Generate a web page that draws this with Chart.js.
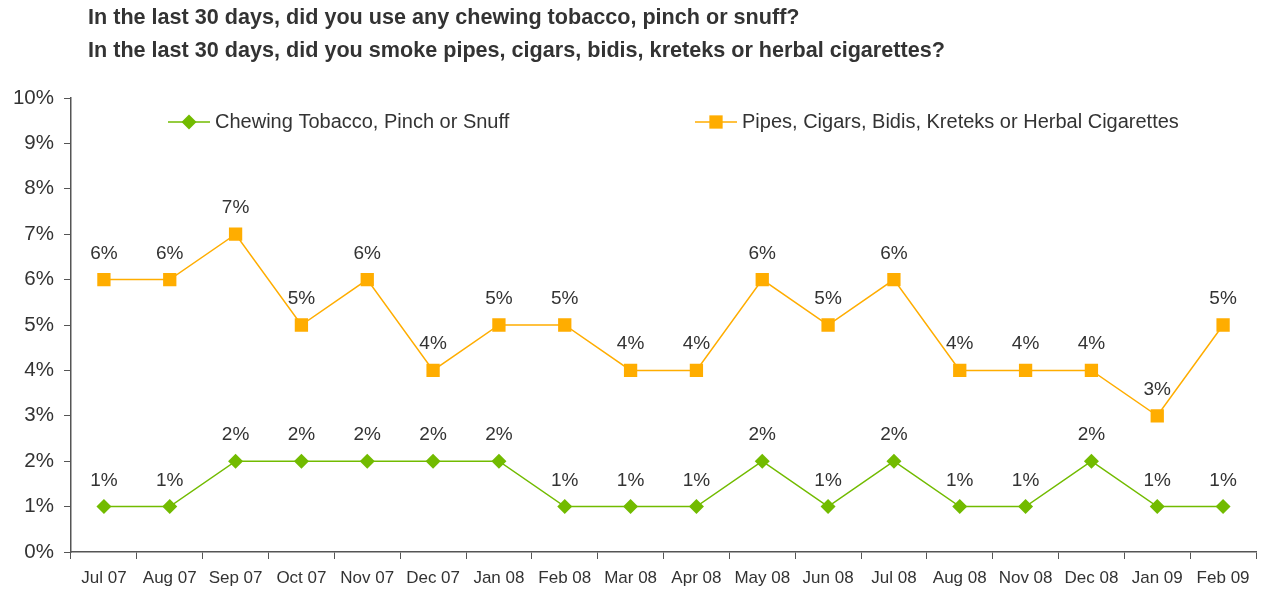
<!DOCTYPE html>
<html>
<head>
<meta charset="utf-8">
<script src="https://cdn.jsdelivr.net/npm/chart.js@4"></script>
<style>
  html, body { margin: 0; padding: 0; background: #fff; }
  #wrap { position: relative; width: 1266px; height: 590px; }
</style>
</head>
<body>
<div id="wrap"><canvas id="chart" width="1266" height="590"></canvas></div>
<script>
// Monthly survey: share of respondents using other tobacco products in the last 30 days.
const TITLE_LINES = [
  "In the last 30 days, did you use any chewing tobacco, pinch or snuff?",
  "In the last 30 days, did you smoke pipes, cigars, bidis, kreteks or herbal cigarettes?",
];

const MONTHS = [
  "Jul 07", "Aug 07", "Sep 07", "Oct 07", "Nov 07", "Dec 07", "Jan 08", "Feb 08", "Mar 08",
  "Apr 08", "May 08", "Jun 08", "Jul 08", "Aug 08", "Nov 08", "Dec 08", "Jan 09", "Feb 09",
];

const CHEWING = [1, 1, 2, 2, 2, 2, 2, 1, 1, 1, 2, 1, 2, 1, 1, 2, 1, 1];
const PIPES = [6, 6, 7, 5, 6, 4, 5, 5, 4, 4, 6, 5, 6, 4, 4, 4, 3, 5];

const GREEN = "#72bb00";
const ORANGE = "#ffad00";
const TEXT = "#333333";
const AXIS = "#555555";
const FONT = "'Liberation Sans', Arial, sans-serif";

// Bold two-line heading at the top left of the canvas.
const titlePlugin = {
  id: "heading",
  afterDraw(chart) {
    const ctx = chart.ctx;
    ctx.save();
    ctx.fillStyle = TEXT;
    ctx.font = "bold 21.6px " + FONT;
    ctx.textBaseline = "alphabetic";
    ctx.textAlign = "left";
    ctx.fillText(TITLE_LINES[0], 88, 24);
    ctx.fillText(TITLE_LINES[1], 88, 57);
    ctx.restore();
  },
};

// Legend inside the plot: a short line with the series marker, then the label.
const legendPlugin = {
  id: "lineLegend",
  afterDraw(chart) {
    const ctx = chart.ctx;
    const y = 122;
    const items = [
      { x: 168, ds: 0 },
      { x: 695, ds: 1 },
    ];
    ctx.save();
    items.forEach((it) => {
      const ds = chart.data.datasets[it.ds];
      ctx.strokeStyle = ds.borderColor;
      ctx.lineWidth = 1.5;
      ctx.beginPath();
      ctx.moveTo(it.x, y);
      ctx.lineTo(it.x + 42, y);
      ctx.stroke();
      ctx.fillStyle = ds.backgroundColor;
      Chart.helpers.drawPoint(ctx, {
        pointStyle: ds.pointStyle,
        radius: ds.pointRadius,
        borderWidth: 0,
      }, it.x + 21, y);
      ctx.fillStyle = TEXT;
      ctx.font = "20px " + FONT;
      ctx.textBaseline = "alphabetic";
      ctx.textAlign = "left";
      ctx.fillText(ds.label, it.x + 47, y + 5.5);
    });
    ctx.restore();
  },
};

// Percentage above every point.
const valueLabels = {
  id: "valueLabels",
  afterDatasetsDraw(chart) {
    const ctx = chart.ctx;
    ctx.save();
    ctx.fillStyle = TEXT;
    ctx.font = "19px " + FONT;
    ctx.textAlign = "center";
    ctx.textBaseline = "alphabetic";
    chart.data.datasets.forEach((ds, i) => {
      chart.getDatasetMeta(i).data.forEach((pt, j) => {
        ctx.fillText(ds.data[j] + "%", pt.x, pt.y - 21);
      });
    });
    ctx.restore();
  },
};

new Chart(document.getElementById("chart"), {
  type: "line",
  data: {
    labels: MONTHS,
    datasets: [
      {
        label: "Chewing Tobacco, Pinch or Snuff",
        data: CHEWING,
        borderColor: GREEN,
        backgroundColor: GREEN,
        borderWidth: 1.5,
        pointStyle: "rectRot",
        pointRadius: 7.5,
        pointBorderWidth: 0,
        tension: 0,
      },
      {
        label: "Pipes, Cigars, Bidis, Kreteks or Herbal Cigarettes",
        data: PIPES,
        borderColor: ORANGE,
        backgroundColor: ORANGE,
        borderWidth: 1.5,
        pointStyle: "rect",
        pointRadius: 9.4,
        pointBorderWidth: 0,
        tension: 0,
      },
    ],
  },
  options: {
    responsive: false,
    animation: false,
    layout: { padding: { top: 98, right: 10, bottom: 0, left: 0 } },
    plugins: {
      legend: { display: false },
      title: { display: false },
      tooltip: { enabled: false },
    },
    scales: {
      x: {
        offset: true,
        afterFit(scale) { scale.height = 38; },
        grid: {
          display: true,
          offset: true,
          drawOnChartArea: false,
          drawTicks: true,
          tickLength: 7,
          color: AXIS,
        },
        border: { color: AXIS, width: 1.5 },
        ticks: {
          color: TEXT,
          font: { family: FONT, size: 17 },
          maxRotation: 0,
          autoSkip: false,
          padding: 9,
        },
      },
      y: {
        min: 0,
        max: 10,
        afterFit(scale) { scale.width = 71; },
        grid: {
          display: true,
          drawOnChartArea: false,
          drawTicks: true,
          tickLength: 7,
          color: AXIS,
        },
        border: { color: AXIS, width: 1.5 },
        ticks: {
          stepSize: 1,
          color: TEXT,
          font: { family: FONT, size: 20.5 },
          padding: 10,
          callback: (v) => v + "%",
        },
      },
    },
  },
  plugins: [titlePlugin, legendPlugin, valueLabels],
});
</script>
</body>
</html>
